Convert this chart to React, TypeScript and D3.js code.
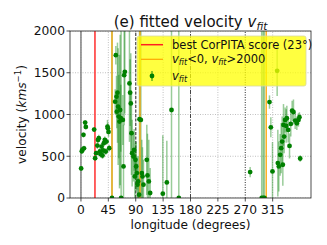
import React from 'react';
import * as d3 from 'd3';

// longitude (deg), fitted velocity (km/s), error (km/s)
const lonVals = [
  0.3, 1.4, 2.5, 4.1, 5, 6.9, 8,
  21.7, 23.3, 25, 27, 28, 29.3, 31, 32.2, 33.8, 35.4, 36.5, 37.6, 39.2, 40.8, 42, 43.6, 44.2, 45.3, 46.4,
  51, 56.2, 57.3, 58.4, 58.9, 60.0, 61.1, 62.2, 63.3, 64.4, 65.5, 66.0, 68.8, 69.9, 71.0, 72.1,
  79.7, 80.8, 81.9, 83.0, 84.1, 86.3, 87.4, 88.5, 89.6, 90.7, 91.8, 92.9, 94.0, 95.5, 96.2, 98.4,
  100, 101.1, 102.7, 108.2, 109.3, 111.5, 113.7, 134.5, 141.1, 148.8, 160.8,
  278, 297, 299.5, 301.5, 309.8, 312, 314.7, 322.4, 323.5, 325.1, 327.3, 329, 330.6, 331.7, 332.8,
  333.9, 335.5, 337.2, 338.3, 340.5, 342.7, 344.8, 347, 349.2, 352, 354.7, 357.4, 359, 360.2,
];
const velVals = [
  354, 560, 580, 756, 595, 903, 851,
  819, 477, 537, 628, 696, 716, 557, 525, 616, 509, 569, 656, 696, 557, 676, 855, 835, 791, 597,
  0, 1153, 1710, 1213, 1034, 1261, 1094, 975, 915, 1054, 955, 0, 935, 378, 1471, 1511,
  1372, 1261, 1133, 776, 537, 497, 577, 258, 457, 378, 298, 159, 199, 40, 943, 935,
  298, 258, 159, 457, 270, 199, 60, 52, 187, 1054, 0,
  310, 0, 0, 0, 1149, 847, 318, 1523, 418, 378, 517, 597, 676, 398, 875,
  736, 935, 863, 955, 815, 624, 887, 1046, 1030, 927, 895, 935, 967, 473,
];
const errVals = [
  30, 30, 30, 30, 30, 30, 30,
  30, 30, 30, 40, 40, 40, 40, 40, 40, 40, 40, 40, 40, 40, 40, 80, 60, 60, 40,
  2500, 150, 110, 250, 200, 600, 700, 500, 800, 900, 400, 2500, 300, 500, 600, 500,
  700, 400, 600, 500, 400, 300, 250, 300, 200, 300, 200, 250, 300, 200, 2500, 2500,
  400, 350, 300, 420, 500, 500, 300, 700, 500, 2500, 2500,
  60, 2500, 2500, 2500, 80, 120, 350, 300, 400, 300, 250, 300, 300, 250, 250,
  200, 150, 200, 150, 150, 150, 150, 120, 150, 100, 80, 80, 60, 40,
];

const xTicks = [0, 45, 90, 135, 180, 225, 270, 315];
const yTicks = [0, 500, 1000, 1500, 2000];
const bestLon = 23;
const badLons = [51, 97, 304.5];

const W = 327;
const H = 245;
const margin = { left: 70, right: 16, top: 31, bottom: 47 };

export default function App() {
  const x = d3.scaleLinear().domain([-18, 378]).range([margin.left, W - margin.right]);
  const y = d3.scaleLinear().domain([0, 2000]).range([H - margin.bottom, margin.top]);
  const [x0, x1] = x.range();
  const [y0, y1] = y.range();
  const font = 'DejaVu Sans, sans-serif';
  const pts = lonVals.map((l, i) => ({ l, v: velVals[i], e: errVals[i] }));

  return (
    <svg width={W} height={H} style={{ position: 'absolute', left: 0, top: 0 }} fontFamily={font}>
      <defs>
        <clipPath id="plot">
          <rect x={x0} y={y1} width={x1 - x0} height={y0 - y1} />
        </clipPath>
      </defs>
      <rect width={W} height={H} fill="#fff" />

      <g clipPath="url(#plot)">
        {/* grid */}
        {xTicks.map(t => (
          <line key={'gx' + t} x1={x(t)} x2={x(t)} y1={y0} y2={y1} stroke="#b0b0b0" strokeWidth={0.8} strokeDasharray="1 1.5" />
        ))}
        {yTicks.map(t => (
          <line key={'gy' + t} x1={x0} x2={x1} y1={y(t)} y2={y(t)} stroke="#b0b0b0" strokeWidth={0.8} strokeDasharray="1 1.5" />
        ))}

        {/* reference longitudes */}
        <line x1={x(0)} x2={x(0)} y1={y0} y2={y1} stroke="#808080" strokeWidth={1.5} />
        <line x1={x(90)} x2={x(90)} y1={y0} y2={y1} stroke="#555" strokeWidth={1.3} strokeDasharray="3 1.5" />
        <line x1={x(180)} x2={x(180)} y1={y0} y2={y1} stroke="#444" strokeWidth={1} strokeDasharray="4 1.5 1 1.5" />
        <line x1={x(270)} x2={x(270)} y1={y0} y2={y1} stroke="#444" strokeWidth={1} strokeDasharray="1 1.5" />

        <line x1={x(bestLon)} x2={x(bestLon)} y1={y0} y2={y1} stroke="#ff5050" strokeWidth={1.8} />

        {/* error bars */}
        {pts.map((p, i) => (
          <line key={'e' + i} x1={x(p.l)} x2={x(p.l)} y1={y(Math.max(p.v - p.e, -100))} y2={y(Math.min(p.v + p.e, 2100))}
            stroke="#008000" strokeOpacity={0.4} strokeWidth={1.5} />
        ))}

        {badLons.map(l => (
          <line key={'b' + l} x1={x(l)} x2={x(l)} y1={y0} y2={y1} stroke="#ffa500" strokeOpacity={0.85} strokeWidth={1.5} />
        ))}

        {pts.map((p, i) => (
          <circle key={'p' + i} cx={x(p.l)} cy={y(p.v)} r={2.4} fill="#008000" />
        ))}
      </g>

      {/* legend */}
      <g>
        <rect x={137} y={36} width={169} height={50} rx={2} fill="#ffff00" fillOpacity={0.75} stroke="#d8d8a0" strokeWidth={0.8} />
        <line x1={141} x2={163} y1={44.7} y2={44.7} stroke="#ff2020" strokeWidth={1.5} />
        <text x={172} y={48.7} fontSize={11.5} fill="#111">best CorPITA score (23°)</text>
        <line x1={141} x2={163} y1={59.3} y2={59.3} stroke="#ffa500" strokeWidth={1.2} />
        <text x={172} y={63.3} fontSize={11.5} fill="#111">
          <tspan fontStyle="italic">v</tspan><tspan fontStyle="italic" fontSize={8} dy={2}>fit</tspan>
          <tspan dy={-2}>{'<0, '}</tspan>
          <tspan fontStyle="italic">v</tspan><tspan fontStyle="italic" fontSize={8} dy={2}>fit</tspan>
          <tspan dy={-2}>{'>2000'}</tspan>
        </text>
        <line x1={152} x2={152} y1={71} y2={81} stroke="#008000" strokeOpacity={0.6} strokeWidth={1.5} />
        <circle cx={152} cy={76} r={2.4} fill="#008000" />
        <text x={172} y={80} fontSize={11.5} fill="#111">
          <tspan fontStyle="italic">v</tspan><tspan fontStyle="italic" fontSize={8} dy={2}>fit</tspan>
        </text>
      </g>

      {/* frame */}
      <rect x={x0} y={y1} width={x1 - x0} height={y0 - y1} fill="none" stroke="#222" strokeWidth={0.8} />

      {/* axes ticks */}
      {xTicks.map(t => (
        <g key={'tx' + t}>
          <line x1={x(t)} x2={x(t)} y1={y0} y2={y0 + 3.5} stroke="#222" strokeWidth={0.8} />
          <text x={x(t)} y={y0 + 16} fontSize={12.3} textAnchor="middle" fill="#111">{t}</text>
        </g>
      ))}
      {yTicks.map(t => (
        <g key={'ty' + t}>
          <line x1={x0} x2={x0 - 3.5} y1={y(t)} y2={y(t)} stroke="#222" strokeWidth={0.8} />
          <text x={x0 - 5} y={y(t) + 4.3} fontSize={12.3} textAnchor="end" fill="#111">{t}</text>
        </g>
      ))}

      {/* labels */}
      <text x={(x0 + x1) / 2} y={228.5} fontSize={12.2} textAnchor="middle" fill="#111">longitude (degrees)</text>
      <text transform={`translate(26, ${(y0 + y1) / 2}) rotate(-90)`} fontSize={12.2} textAnchor="middle" fill="#111">
        velocity (<tspan fontStyle="italic">kms</tspan><tspan fontSize={8.5} dy={-5}>−1</tspan><tspan dy={5}>)</tspan>
      </text>
      <text x={(x0 + x1) / 2} y={27} fontSize={15} textAnchor="middle" fill="#111">
        (e) fitted velocity <tspan fontStyle="italic">v</tspan><tspan fontStyle="italic" fontSize={10.5} dy={2.5}>fit</tspan>
      </text>
    </svg>
  );
}
